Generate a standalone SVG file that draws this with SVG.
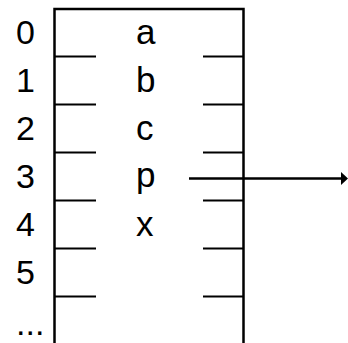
<svg xmlns="http://www.w3.org/2000/svg" width="348" height="343" viewBox="0 0 348 343">
<style>
.t{font-family:"Liberation Sans",Arial,sans-serif;font-size:34px;fill:#000}
.v{font-family:"Liberation Sans",Arial,sans-serif;font-size:35px;fill:#000}
.b{stroke:#000;stroke-width:2.5;fill:none}
.k{stroke:#000;stroke-width:2;fill:none}
</style>
<rect width="348" height="343" fill="#fff"/>
<g id="array">
<path class="b" d="M54.5,343 V9 H243.5 V343"/>
<path class="k" d="M54,56.5 H96 M54,104.5 H96 M54,152.5 H96 M54,200.5 H96 M54,248.5 H96 M54,296.5 H96"/>
<path class="k" d="M203,56.5 H244 M203,104.5 H244 M203,152.5 H244 M203,200.5 H244 M203,248.5 H244 M203,296.5 H244"/>
</g>
<g id="indices">
<text class="t" x="16" y="44">0</text>
<text class="t" x="16" y="92">1</text>
<text class="t" x="16" y="140">2</text>
<text class="t" x="16" y="188">3</text>
<text class="t" x="16" y="236">4</text>
<text class="t" x="16" y="284">5</text>
<text class="t" x="16" y="335">...</text>
</g>
<g id="values">
<text class="v" x="136" y="44">a</text>
<text class="v" x="136" y="92">b</text>
<text class="v" x="136" y="140">c</text>
<text class="v" x="136" y="187">p</text>
<text class="v" x="136" y="236">x</text>
</g>
<g id="connectors">
<line x1="189" y1="178.5" x2="342" y2="178.5" stroke="#000" stroke-width="2.5"/>
<polygon points="341,172 348,178.5 341,185" fill="#000"/>
</g>
</svg>
